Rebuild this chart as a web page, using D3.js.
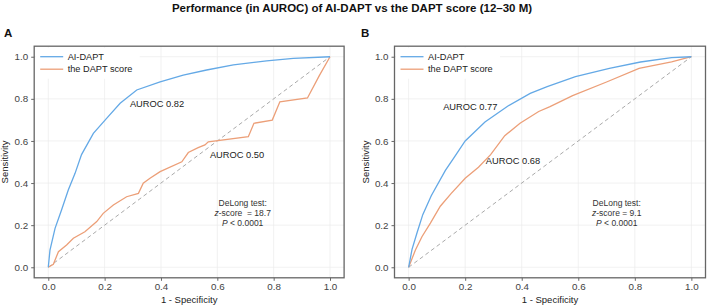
<!DOCTYPE html>
<html>
<head>
<meta charset="utf-8">
<script src="https://cdn.jsdelivr.net/npm/d3@7"></script>
<style>
  body { margin: 0; background: #fff; }
  text { font-family: "Liberation Sans", Arial, sans-serif; }
  .tick-label { font-family: "Liberation Sans", Arial, sans-serif; font-size: 9.8px; fill: #444; }
</style>
</head>
<body>
<svg id="chart" width="709" height="307"></svg>
<script>
// ROC points, [1 - specificity, sensitivity]
var aiDaptA = [[0,0],[0.006,0.082],[0.024,0.185],[0.047,0.272],[0.071,0.367],[0.095,0.446],
  [0.118,0.535],[0.16,0.636],[0.207,0.707],[0.255,0.779],[0.314,0.842],[0.397,0.881],
  [0.479,0.913],[0.562,0.937],[0.657,0.961],[0.775,0.98],[0.87,0.992],[1,1]];
var daptA = [[0,0],[0.018,0.014],[0.036,0.074],[0.065,0.106],[0.089,0.138],[0.13,0.169],
  [0.172,0.217],[0.195,0.256],[0.231,0.296],[0.278,0.335],[0.32,0.351],[0.337,0.399],
  [0.361,0.423],[0.397,0.454],[0.474,0.501],[0.497,0.545],[0.532,0.568],[0.556,0.581],
  [0.568,0.596],[0.71,0.62],[0.73,0.684],[0.795,0.699],[0.822,0.786],[0.92,0.804],
  [0.962,0.91],[1,1]];
var aiDaptB = [[0,0],[0.012,0.085],[0.03,0.165],[0.05,0.25],[0.08,0.34],[0.13,0.46],
  [0.16,0.52],[0.2,0.6],[0.27,0.69],[0.35,0.765],[0.43,0.826],[0.49,0.858],[0.59,0.905],
  [0.71,0.945],[0.82,0.975],[0.93,0.996],[1,1]];
var daptB = [[0,0],[0.024,0.082],[0.047,0.145],[0.077,0.21],[0.112,0.29],[0.15,0.35],
  [0.2,0.423],[0.247,0.475],[0.29,0.535],[0.34,0.625],[0.394,0.684],[0.46,0.74],
  [0.5,0.763],[0.58,0.815],[0.7,0.88],[0.815,0.945],[0.93,0.976],[1,1]];

var ticks = [0, 0.2, 0.4, 0.6, 0.8, 1.0];
var seriesNames = ["AI-DAPT", "the DAPT score"];
var colors = ["#64a9e6", "#ec9f78"];

var svg = d3.select("#chart");

svg.append("text")
  .attr("x", 352).attr("y", 12)
  .attr("text-anchor", "middle")
  .style("font-size", "11.5px").style("font-weight", "bold").style("fill", "#111")
  .text("Performance (in AUROC) of AI-DAPT vs the DAPT score (12\u201330 M)");

// one panel: frame, grid, diagonal, two ROC curves, legend and notes
function drawPanel(p) {
  var x = d3.scaleLinear().domain([-0.05, 1.05]).range([p.left, p.right]);
  var y = d3.scaleLinear().domain([-0.05, 1.05]).range([277.8, 46.2]);
  var g = svg.append("g");

  g.append("text")
    .attr("x", p.letterX).attr("y", 37)
    .style("font-size", "11.5px").style("font-weight", "bold").style("fill", "#111")
    .text(p.letter);

  // grid
  g.selectAll(".gx").data(ticks).enter().append("line")
    .attr("x1", d => x(d)).attr("x2", d => x(d))
    .attr("y1", y.range()[1]).attr("y2", y.range()[0])
    .attr("stroke", "#ebebeb").attr("stroke-width", 0.7);
  g.selectAll(".gy").data(ticks).enter().append("line")
    .attr("y1", d => y(d)).attr("y2", d => y(d))
    .attr("x1", p.left).attr("x2", p.right)
    .attr("stroke", "#ebebeb").attr("stroke-width", 0.7);

  // chance line
  g.append("line")
    .attr("x1", x(0)).attr("y1", y(0)).attr("x2", x(1)).attr("y2", y(1))
    .attr("stroke", "#aaaaaa").attr("stroke-width", 1).attr("stroke-dasharray", "4,3");

  var line = d3.line().x(d => x(d[0])).y(d => y(d[1]));
  [p.dapt, p.ai].forEach(function (s, i) {
    g.append("path").datum(s)
      .attr("d", line)
      .attr("fill", "none")
      .attr("stroke", i === 0 ? colors[1] : colors[0])
      .attr("stroke-width", 1.3);
  });

  // legend
  g.append("rect")
    .attr("x", p.left + 1.5).attr("y", y.range()[1] + 1.5)
    .attr("width", 104).attr("height", 31)
    .attr("fill", "#fff");
  seriesNames.forEach(function (n, i) {
    var ly = 56.7 + i * 12.5;
    g.append("line")
      .attr("x1", p.left + 6).attr("x2", p.left + 29)
      .attr("y1", ly).attr("y2", ly)
      .attr("stroke", colors[i]).attr("stroke-width", 1.3);
    g.append("text")
      .attr("x", p.left + 33.5).attr("y", ly).attr("dy", "0.35em")
      .style("font-size", "9.2px").style("fill", "#222")
      .text(n);
  });

  // frame
  g.append("rect")
    .attr("x", p.left).attr("y", y.range()[1])
    .attr("width", p.right - p.left).attr("height", y.range()[0] - y.range()[1])
    .attr("fill", "none").attr("stroke", "#666").attr("stroke-width", 1.3);

  // axes
  var xAxis = g.append("g").attr("transform", "translate(0," + y.range()[0] + ")")
    .call(d3.axisBottom(x).tickValues(ticks).tickFormat(d3.format(".1f")).tickSize(3).tickPadding(2.5));
  var yAxis = g.append("g").attr("transform", "translate(" + p.left + ",0)")
    .call(d3.axisLeft(y).tickValues(ticks).tickFormat(d3.format(".1f")).tickSize(3).tickPadding(3));
  [xAxis, yAxis].forEach(function (a) {
    a.select(".domain").remove();
    a.selectAll(".tick line").attr("stroke", "#666");
    a.selectAll(".tick text").attr("class", "tick-label").attr("fill", null);
  });

  g.append("text")
    .attr("x", (x(0) + x(1)) / 2).attr("y", 302.5)
    .attr("text-anchor", "middle")
    .style("font-size", "9.5px").style("fill", "#222")
    .text("1 - Specificity");
  g.append("text")
    .attr("transform", "translate(" + (p.left - 26) + "," + y(0.5) + ") rotate(-90)")
    .attr("text-anchor", "middle")
    .style("font-size", "9.5px").style("fill", "#222")
    .text("Sensitivity");

  // AUROC labels
  p.auc.forEach(function (a) {
    g.append("text")
      .attr("x", x(a[0])).attr("y", y(a[1])).attr("dy", "0.35em")
      .attr("text-anchor", "middle")
      .style("font-size", "9.3px").style("fill", "#222")
      .text(a[2]);
  });

  // DeLong test note
  var note = g.append("text")
    .attr("text-anchor", "middle")
    .style("font-size", "8.5px").style("fill", "#333");
  note.append("tspan").attr("x", x(p.noteX)).attr("y", y(0.305)).attr("dy", "0.35em").text("DeLong test:");
  var l2 = note.append("tspan").attr("x", x(p.noteX)).attr("y", y(0.258)).attr("dy", "0.35em");
  l2.append("tspan").style("font-style", "italic").text("z");
  l2.append("tspan").text(p.zText);
  var l3 = note.append("tspan").attr("x", x(p.noteX)).attr("y", y(0.21)).attr("dy", "0.35em");
  l3.append("tspan").style("font-style", "italic").text("P");
  l3.append("tspan").text(" < 0.0001");
}

drawPanel({
  letter: "A", letterX: 4, left: 34.2, right: 344.1,
  ai: aiDaptA, dapt: daptA,
  auc: [[0.386, 0.775, "AUROC 0.82"], [0.67, 0.533, "AUROC 0.50"]],
  noteX: 0.69, zText: "-score \u00a0= 18.7"
});
drawPanel({
  letter: "B", letterX: 361, left: 394.5, right: 705.5,
  ai: aiDaptB, dapt: daptB,
  auc: [[0.218, 0.761, "AUROC 0.77"], [0.369, 0.505, "AUROC 0.68"]],
  noteX: 0.736, zText: "-score = 9.1"
});
</script>
</body>
</html>
